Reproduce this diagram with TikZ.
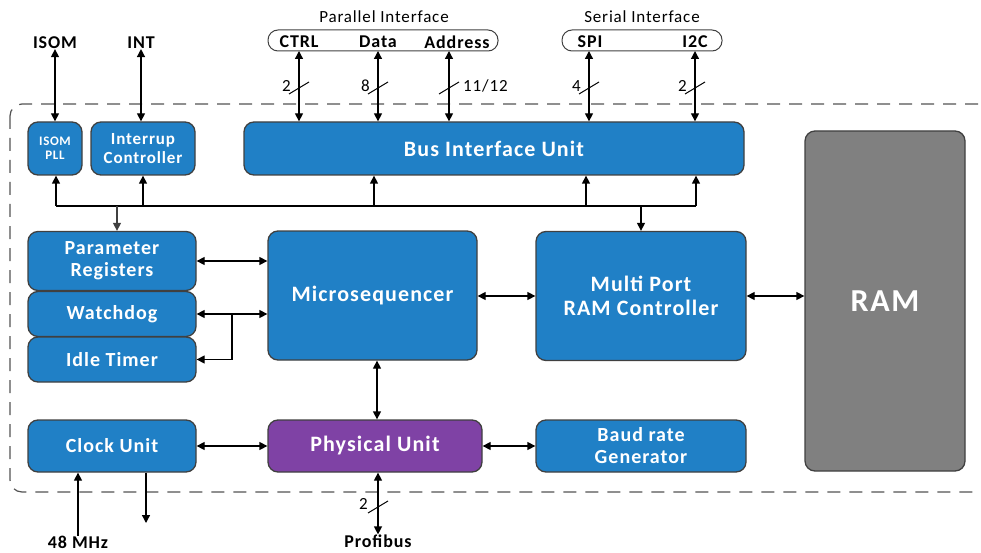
\documentclass[tikz,border=0pt]{standalone}
\usepackage{fontspec}
\setmainfont{Carlito}
\newfontfamily\spacedfont[LetterSpace=5]{Carlito}
\usetikzlibrary{arrows.meta}
\definecolor{unitblue}{HTML}{2080C6}
\definecolor{unitpurple}{HTML}{7F42A5}
\definecolor{ramgray}{HTML}{808080}
\definecolor{edgegray}{HTML}{404040}
\begin{document}
\begin{tikzpicture}[x=1pt,y=-1pt]
\tikzstyle{unit}=[draw=edgegray,line width=1.3pt,rounded corners=10pt,fill=unitblue,
  text=white,font=\spacedfont\bfseries\fontsize{20}{22}\selectfont,align=center,inner sep=0pt];
\tikzstyle{bigunit}=[unit,font=\spacedfont\bfseries\fontsize{22}{24}\selectfont];
\tikzstyle{pill}=[draw=edgegray,line width=1pt,rounded corners=10pt,inner sep=0pt];
\tikzstyle{sig}=[font=\spacedfont\bfseries\fontsize{18}{20}\selectfont,inner sep=0pt];
\tikzstyle{num}=[font=\spacedfont\fontsize{17}{19}\selectfont,inner sep=0pt];
\tikzstyle{link}=[line width=1.3pt,{Triangle[length=8pt,width=8pt]}-{Triangle[length=8pt,width=8pt]}];
\tikzstyle{to}=[line width=1.3pt,-{Triangle[length=8pt,width=8pt]}];
\clip (0,0) rectangle (981,553);
% chip outline
\draw[edgegray!90,line width=1.2pt,dash pattern=on 13pt off 9pt,rounded corners=12pt]
  (10,104) rectangle (1000,492);
% units
\node[unit,minimum width=54,minimum height=53,font=\spacedfont\bfseries\fontsize{13}{14}\selectfont] (isompll) at (55,148.5) {ISOM\\PLL};
\node[unit,minimum width=104,minimum height=53,font=\spacedfont\bfseries\fontsize{17}{19}\selectfont] (intr) at (143,148.5) {Interrup\\Controller};
\node[bigunit,minimum width=500,minimum height=53] (biu) at (494,148.5) {Bus Interface Unit};
\node[unit,minimum width=160,minimum height=340,fill=ramgray,font=\spacedfont\bfseries\fontsize{32}{36}\selectfont] (ram) at (885,301) {RAM};
\node[unit,minimum width=168,minimum height=59] (param) at (112,261) {Parameter\\Registers};
\node[unit,minimum width=168,minimum height=45] (wdog) at (112,314) {Watchdog};
\node[unit,minimum width=168,minimum height=45] (idle) at (112,359.5) {Idle Timer};
\node[bigunit,minimum width=209,minimum height=129] (micro) at (372.5,295.5) {Microsequencer};
\node[bigunit,minimum width=210,minimum height=129] (mprc) at (641,296) {Multi Port\\RAM Controller};
\node[unit,minimum width=168,minimum height=52] (clk) at (112,446) {Clock Unit};
\node[bigunit,minimum width=214,minimum height=52,fill=unitpurple] (phy) at (375,446) {Physical Unit};
\node[unit,minimum width=210,minimum height=52] (baud) at (641,446) {Baud rate\\Generator};
% external signals
\node[sig] (isom) at (55,43) {ISOM};
\node[sig] (int) at (141,43) {INT};
\node[sig] (mhz) at (78,542) {48 MHz};
\node[sig] (profibus) at (378,541) {Profibus};
\node[pill,minimum width=230,minimum height=21] (par) at (383,40.5) {};
\node[pill,minimum width=160,minimum height=21] (ser) at (642,40.5) {};
\node[num] (partitle) at (384,17) {Parallel Interface};
\node[num] (sertitle) at (642,17) {Serial Interface};
\node[sig] (ctrl) at (299,42) {CTRL};
\node[sig] (data) at (378,42) {Data};
\node[sig] (addr) at (457,42) {Address};
\node[sig] (spi) at (590,42) {SPI};
\node[sig] (iic) at (695,42) {I2C};
\coordinate (pctrl) at (299,51);
\coordinate (pdata) at (378,51);
\coordinate (paddr) at (449,51);
\coordinate (pspi) at (589,51);
\coordinate (piic) at (695,51);
% internal bus
\coordinate (busl) at (56,206);
\coordinate (busr) at (696,206);
\coordinate (bus1) at (374,206);
\coordinate (bus2) at (586,206);
\coordinate (busp) at (117,206);
\coordinate (busm) at (641,206);
\coordinate (wbr) at (232,314);
% connectors
\draw[link] (isom) -- (isompll);
\draw[link] (int.south) -- (int.south |- intr.north);
\foreach \p in {pctrl,pdata,paddr,pspi,piic}
  \draw[link] (\p) -- (\p |- biu.north);
\foreach \x/\y in {299/88,378/88,449/88,589/88,695/88,378/507}
  \draw[line width=1pt] (\x-10,\y+6) -- (\x+10,\y-6);
\node[num,anchor=east] (n1) at (291,86) {2};
\node[num,anchor=east] (n2) at (370,86) {8};
\node[num,anchor=west] (n3) at (463,86) {11/12};
\node[num,anchor=east] (n4) at (581,86) {4};
\node[num,anchor=east] (n5) at (687,86) {2};
\node[num,anchor=east] (n6) at (368,504) {2};
\draw[line width=1.3pt] (busl) -- (busr);
\draw[to] (busl) -- (busl |- isompll.south);
\draw[to] (busl -| intr) -- (intr.south);
\draw[to] (bus1) -- (bus1 |- biu.south);
\draw[to] (bus2) -- (bus2 |- biu.south);
\draw[to] (busr) -- (busr |- biu.south);
\draw[to,edgegray] (busp) -- (busp |- param.north);
\draw[to] (busm) -- (mprc.north);
\draw[link] (param.east) -- (param.east -| micro.west);
\draw[link] (wdog.east) -- (wdog.east -| micro.west);
\draw[to] (wbr) |- (idle.east);
\draw[link] (micro.east |- mprc.west) -- (mprc.west);
\draw[link] (mprc.east) -- (mprc.east -| ram.west);
\draw[link] (micro.south -| 377,0) -- (phy.north -| 377,0);
\draw[link] (clk) -- (phy);
\draw[link] (phy) -- (baud);
\draw[to] (mhz.north -| 78,0) -- (clk.south -| 78,0);
\draw[to] (clk.south -| 146,0) -- (146,523);
\draw[link] (phy.south -| 378,0) -- (profibus.north);
\end{tikzpicture}
\end{document}
